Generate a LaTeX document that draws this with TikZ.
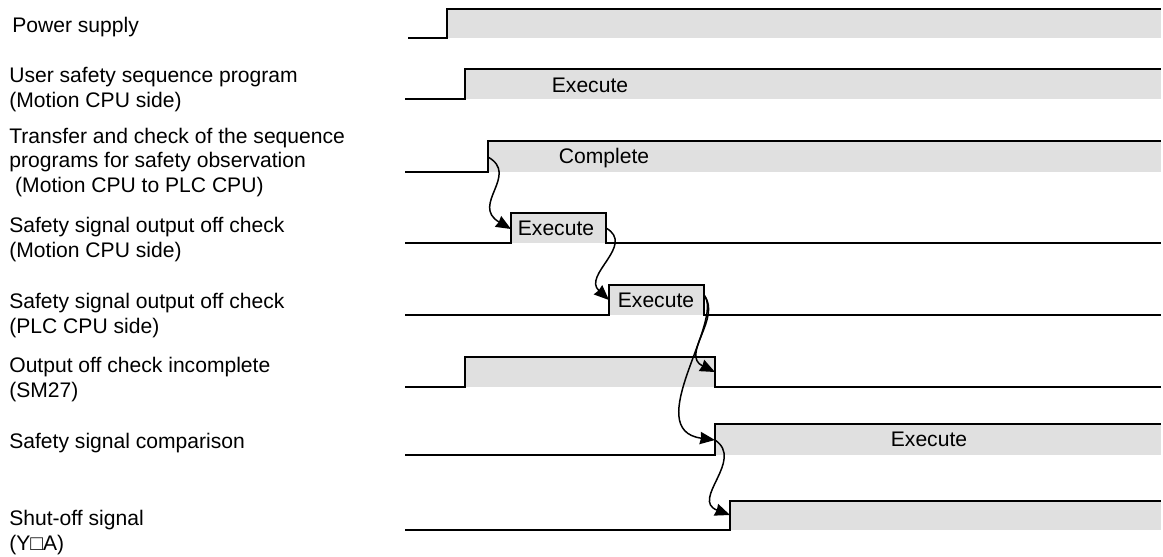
\documentclass[tikz,border=0pt]{standalone}
\usepackage{fontspec}
\setmainfont{Liberation Sans}
\usepackage{tikz}
\usetikzlibrary{arrows.meta}
\definecolor{SigFill}{HTML}{E0E0E0}

\begin{document}
\begin{tikzpicture}[x=0.02cm,y=-0.02cm,
  every node/.style={font=\fontsize{12}{13.8}\selectfont, inner sep=0pt},
  lbl/.style={anchor=base west, align=left},
  sig/.style={line width=1.1pt, line join=miter},
  link/.style={line width=0.85pt, -{Stealth[length=8.5pt,width=7pt,inset=0.5pt]}}]
  \useasboundingbox (0,0) rectangle (1163,556);
  % signal names (base = last line)
  \node[lbl] (lpow)  at (12,32)  {Power supply};
  \node[lbl] (luser) at (9,107)  {User safety sequence program\\(Motion CPU side)};
  \node[lbl] (ltran) at (9,192)  {Transfer and check of the sequence\\programs for safety observation\\\ (Motion CPU to PLC CPU)};
  \node[lbl] (lmot)  at (9,257)  {Safety signal output off check\\(Motion CPU side)};
  \node[lbl] (lplc)  at (9,333)  {Safety signal output off check\\(PLC CPU side)};
  \node[lbl] (lsm)   at (9,397)  {Output off check incomplete\\(SM27)};
  \node[lbl] (lcmp)  at (9,448)  {Safety signal comparison};
  \node[lbl] (lshut) at (9,550)  {Shut-off signal\\(Y□A)};
  % grey areas
  \fill[SigFill] (447,9) rectangle (1161,38);
  \fill[SigFill] (465,69) rectangle (1161,99);
  \fill[SigFill] (488,141) rectangle (1161,172);
  \fill[SigFill] (511,213) rectangle (606,243);
  \fill[SigFill] (609,285) rectangle (704,315);
  \fill[SigFill] (465,357) rectangle (715,387);
  \fill[SigFill] (715,424) rectangle (1161,455);
  \fill[SigFill] (730,501) rectangle (1161,530);
  % traces
  \draw[sig] (408,38)--(447,38)--(447,9)--(1161,9);
  \draw[sig] (405,99)--(465,99)--(465,69)--(1161,69);
  \draw[sig] (405,172)--(488,172)--(488,141)--(1161,141);
  \draw[sig] (405,243)--(511,243)--(511,213)--(606,213)--(606,243)--(1161,243);
  \draw[sig] (405,315)--(609,315)--(609,285)--(704,285)--(704,315)--(1161,315);
  \draw[sig] (405,387)--(465,387)--(465,357)--(715,357)--(715,387)--(1161,387);
  \draw[sig] (405,455)--(715,455)--(715,424)--(1161,424);
  \draw[sig] (405,530)--(730,530)--(730,501)--(1161,501);
  % states
  \node[anchor=base] (euser) at (590,92)  {Execute};
  \node[anchor=base] (ctran) at (604,163) {Complete};
  \node[anchor=base] (emot)  at (556,235) {Execute};
  \node[anchor=base] (eplc)  at (656,307) {Execute};
  \node[anchor=base] (ecmp)  at (929,446) {Execute};
  % edges
  \coordinate (tranup) at (488,157);
  \coordinate (motup)  at (511,229);
  \coordinate (motdn)  at (606,228);
  \coordinate (plcup)  at (609,300);
  \coordinate (plcdn)  at (704,295);
  \coordinate (smdn)   at (715,372);
  \coordinate (cmpup)  at (715,440);
  \coordinate (shutup) at (730,515);
  \draw[link] (tranup) .. controls (520,175) and (470,205) .. (motup);
  \draw[link] (motdn) .. controls (636,245) and (582,275) .. (plcup);
  \draw[link] (plcdn) .. controls (722,318) and (680,355) .. (smdn);
  \draw[link] (plcdn) .. controls (725,320) and (640,430) .. (cmpup);
  \draw[link] (cmpup) .. controls (745,460) and (690,500) .. (shutup);
\end{tikzpicture}
\end{document}
